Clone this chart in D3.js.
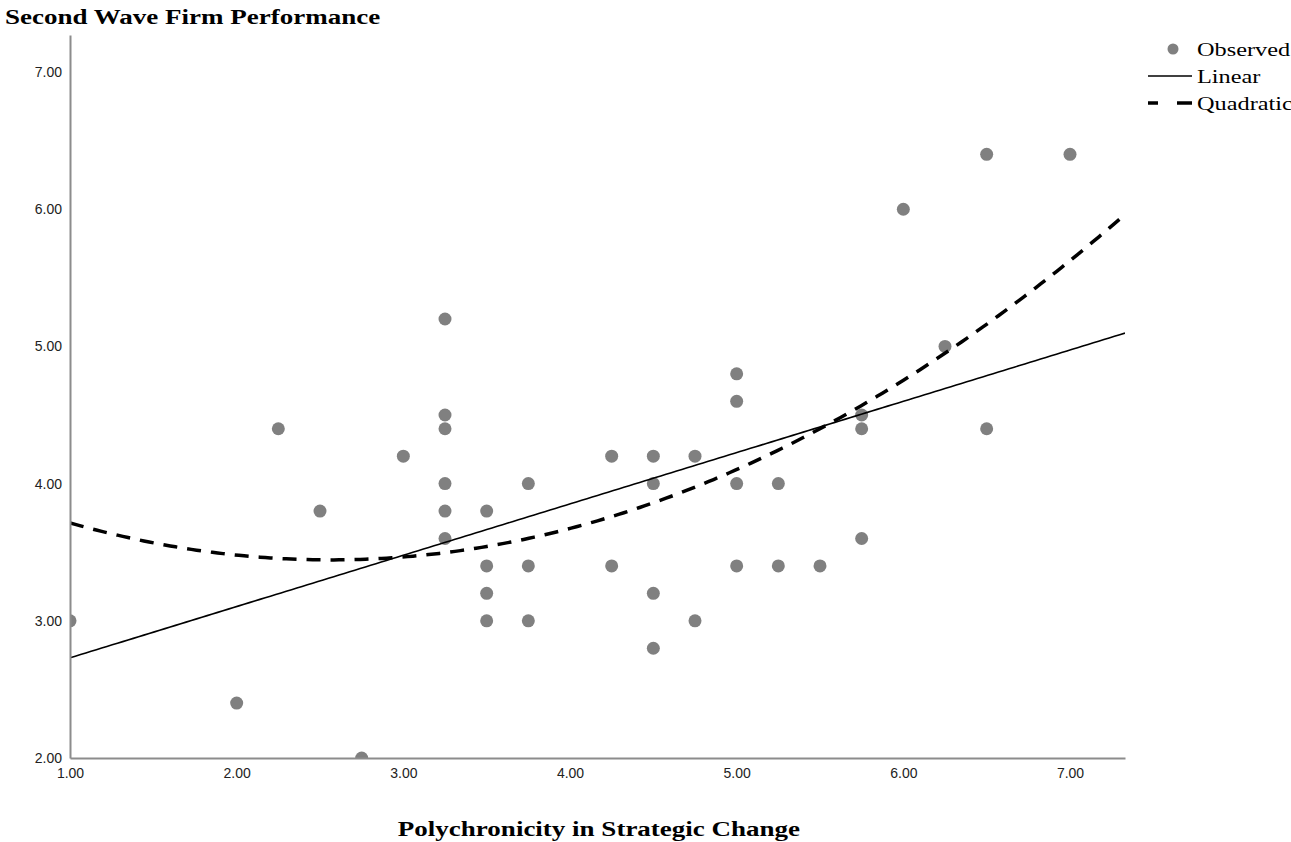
<!DOCTYPE html>
<html>
<head>
<meta charset="utf-8">
<script src="https://cdn.jsdelivr.net/npm/d3@7"></script>
<style>
  body { margin: 0; background: #fff; }
  svg { display: block; }
</style>
</head>
<body>
<div id="chart"></div>
<script>
var polyX = [1.00, 2.00, 2.25, 2.50, 2.75, 3.00,
             3.25, 3.25, 3.25, 3.25, 3.25, 3.25,
             3.50, 3.50, 3.50, 3.50,
             3.75, 3.75, 3.75,
             4.25, 4.25,
             4.50, 4.50, 4.50, 4.50,
             4.75, 4.75,
             5.00, 5.00, 5.00, 5.00,
             5.25, 5.25, 5.50,
             5.75, 5.75, 5.75,
             6.00, 6.25, 6.50, 6.50, 7.00];
var perfY = [3.00, 2.40, 4.40, 3.80, 2.00, 4.20,
             5.20, 4.50, 4.40, 4.00, 3.80, 3.60,
             3.80, 3.40, 3.20, 3.00,
             4.00, 3.40, 3.00,
             4.20, 3.40,
             4.20, 4.00, 3.20, 2.80,
             4.20, 3.00,
             4.80, 4.60, 4.00, 3.40,
             4.00, 3.40, 3.40,
             4.50, 4.40, 3.60,
             6.00, 5.00, 6.40, 4.40, 6.40];

// fitted curves (coefficients b0, b1, b2), estimated from the lines
var linearCoef = [2.356, 0.374];
var quadCoef = [4.17, -0.567, 0.1107];

var xTicks = [1, 2, 3, 4, 5, 6, 7];
var yTicks = [2, 3, 4, 5, 6, 7];
var legendLabels = ['Observed', 'Linear', 'Quadratic'];

var W = 1291, H = 842;
var margin = {left: 70, top: 35, right: 166, bottom: 84};
var serif = 'Liberation Serif, Times New Roman, serif';
var widen = 1.35; // the serif in the picture is wider than Times

var svg = d3.select('#chart').append('svg')
  .attr('width', W).attr('height', H);

var x = d3.scaleLinear().domain([1, 7.33]).range([margin.left, W - margin.right]);
var y = d3.scaleLinear().domain([2, 7.27]).range([H - margin.bottom, margin.top]);

svg.append('defs').append('clipPath').attr('id', 'plotclip')
  .append('rect')
  .attr('x', margin.left).attr('y', margin.top)
  .attr('width', x.range()[1] - margin.left)
  .attr('height', y.range()[0] - margin.top);

var plot = svg.append('g').attr('clip-path', 'url(#plotclip)');

// points
plot.selectAll('circle.obs')
  .data(polyX.map(function(v, i){ return [v, perfY[i]]; }))
  .enter().append('circle')
  .attr('class', 'obs')
  .attr('cx', function(d){ return x(d[0]); })
  .attr('cy', function(d){ return y(d[1]); })
  .attr('r', 6.5)
  .attr('fill', '#808080');

var xs = d3.range(0, 201).map(function(i){ return 1 + i * (7.33 - 1) / 200; });

var line = d3.line()
  .x(function(d){ return x(d[0]); })
  .y(function(d){ return y(d[1]); });

plot.append('path')
  .datum(xs.map(function(v){ return [v, linearCoef[0] + linearCoef[1] * v]; }))
  .attr('d', line)
  .attr('fill', 'none')
  .attr('stroke', '#000')
  .attr('stroke-width', 1.6);

plot.append('path')
  .datum(xs.map(function(v){ return [v, quadCoef[0] + quadCoef[1] * v + quadCoef[2] * v * v]; }))
  .attr('d', line)
  .attr('fill', 'none')
  .attr('stroke', '#000')
  .attr('stroke-width', 3.5)
  .attr('stroke-dasharray', '14,10');

// axes
var xAxis = d3.axisBottom(x).tickValues(xTicks).tickSize(0).tickPadding(10)
  .tickFormat(d3.format('.2f'));
var yAxis = d3.axisLeft(y).tickValues(yTicks).tickSize(0).tickPadding(8)
  .tickFormat(d3.format('.2f'));

var gx = svg.append('g')
  .attr('transform', 'translate(0,' + y.range()[0] + ')')
  .call(xAxis);
var gy = svg.append('g')
  .attr('transform', 'translate(' + margin.left + ',0)')
  .call(yAxis);

[gx, gy].forEach(function(g){
  g.select('.domain').attr('stroke', '#8c8c8c').attr('stroke-width', 2);
  g.selectAll('text')
    .attr('font-family', 'Liberation Sans, Arial, sans-serif')
    .attr('font-size', 14)
    .attr('fill', '#222');
});

function stretch(sel){
  sel.each(function(){
    var w = this.getComputedTextLength();
    d3.select(this).attr('textLength', w * widen).attr('lengthAdjust', 'spacingAndGlyphs');
  });
}

// titles
svg.append('text')
  .attr('x', 5).attr('y', 24)
  .attr('font-family', serif)
  .attr('font-weight', 'bold')
  .attr('font-size', 20)
  .text('Second Wave Firm Performance')
  .call(stretch);

svg.append('text')
  .attr('x', 599).attr('y', 836)
  .attr('text-anchor', 'middle')
  .attr('font-family', serif)
  .attr('font-weight', 'bold')
  .attr('font-size', 20)
  .text('Polychronicity in Strategic Change')
  .call(stretch);

// legend
var lg = svg.append('g').attr('font-family', serif).attr('font-size', 18);
lg.append('circle').attr('cx', 1173).attr('cy', 49).attr('r', 5.5).attr('fill', '#808080');
lg.append('line').attr('x1', 1148).attr('x2', 1192).attr('y1', 76).attr('y2', 76)
  .attr('stroke', '#000').attr('stroke-width', 1.6);
lg.append('line').attr('x1', 1148).attr('x2', 1192).attr('y1', 103).attr('y2', 103)
  .attr('stroke', '#000').attr('stroke-width', 3.5).attr('stroke-dasharray', '10,19,15');
lg.selectAll('text.lab').data(legendLabels).enter().append('text')
  .attr('class', 'lab')
  .attr('x', 1197)
  .attr('y', function(d, i){ return 56 + i * 27; })
  .text(function(d){ return d; })
  .call(stretch);
</script>
</body>
</html>
